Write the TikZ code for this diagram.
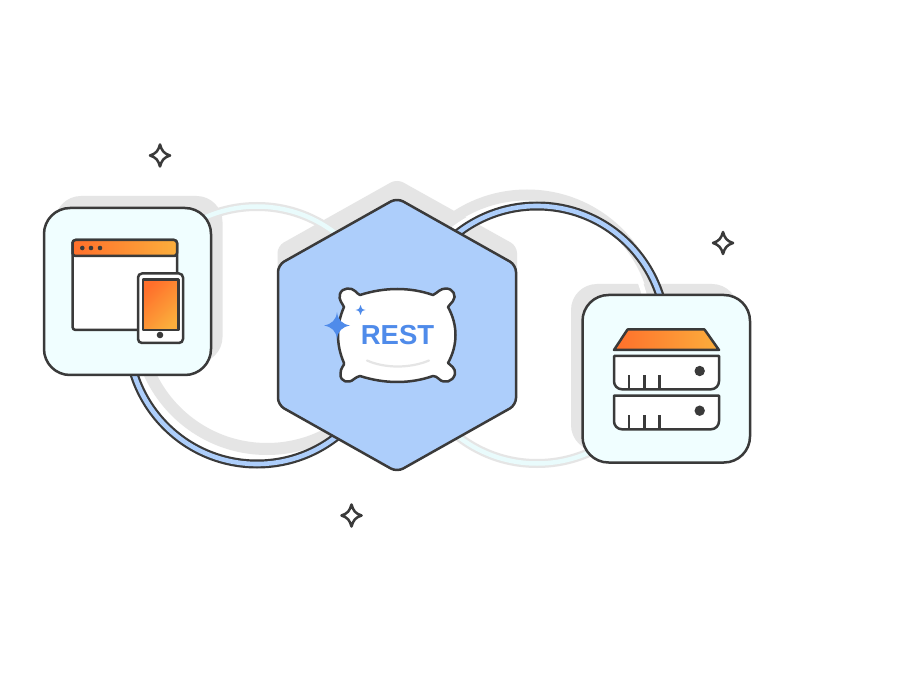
\documentclass[tikz,border=0pt]{standalone}
\usepackage{fontspec}
\setmainfont{Liberation Sans}
\definecolor{ink}{HTML}{3A3A3A}
\definecolor{shadowgray}{HTML}{E5E5E5}
\definecolor{hexblue}{HTML}{ADCEFB}
\definecolor{tileblue}{HTML}{F0FEFF}
\definecolor{restblue}{HTML}{4F8BEA}
\definecolor{palecore}{HTML}{E9FBFC}
\definecolor{ora}{HTML}{FF6F2B}
\definecolor{yel}{HTML}{FBAE3C}
\tikzset{
  outline/.style={draw=ink,line width=2.5pt,line join=round},
  tile/.style={outline,fill=tileblue,rounded corners=26pt},
  tileshadow/.style={fill=shadowgray,rounded corners=26pt},
  whitefill/.style={outline,fill=white},
  sparkle/.pic={\draw[outline,fill=white] (0,-11)
     .. controls (1.8,-4.5) and (4,-2) .. (10,0)
     .. controls (4,2) and (1.8,4.5) .. (0,11)
     .. controls (-1.8,4.5) and (-4,2) .. (-10,0)
     .. controls (-4,-2) and (-1.8,-4.5) .. cycle;},
  x=1pt,y=-1pt
}
\newcommand{\ringarc}[6]{%
  \draw[draw=#5,line width=#6] (#1) ++(#2:#4) arc[start angle=#2,end angle=#3,radius=#4];}
\begin{document}
\begin{tikzpicture}
\useasboundingbox (0,0) rectangle (903,676);
\fill[white] (0,0) rectangle (903,676);
% shadows
\fill[tileshadow] (55,196) rectangle (222.5,363);
\fill[tileshadow] (571,284) rectangle (738,451);
\fill[shadowgray,rounded corners=7pt] (397,179) -- (517,246) -- (517,387) -- (397,452) -- (277.5,387) -- (277.5,246) -- cycle;
% ring shadows
\ringarc{527,325}{0}{180}{121pt}{white}{5pt}
\ringarc{267,320}{180}{360}{129pt}{shadowgray}{12pt}
\ringarc{527,325}{0}{180}{130pt}{shadowgray}{11pt}
% connectors
\ringarc{257,335}{0}{180}{128.5pt}{shadowgray}{9pt}
\ringarc{257,335}{0}{180}{128.5pt}{palecore}{4.5pt}
\ringarc{537,335}{180}{360}{128.5pt}{shadowgray}{9pt}
\ringarc{537,335}{180}{360}{128.5pt}{palecore}{4.5pt}
\ringarc{257,335}{180}{360}{129pt}{ink}{9pt}
\ringarc{257,335}{180}{360}{129pt}{hexblue}{4.6pt}
\ringarc{537,335}{0}{180}{129pt}{ink}{9pt}
\ringarc{537,335}{0}{180}{129pt}{hexblue}{4.6pt}
% hexagon
\draw[outline,fill=hexblue,rounded corners=7pt] (397,198) -- (516,265) -- (516,405) -- (397,472) -- (278,405) -- (278,265) -- cycle;
% client tile
\draw[tile] (44,208) rectangle (211,375);
\draw[whitefill,rounded corners=3pt] (72.5,240) rectangle (177,330);
\draw[outline,left color=ora,right color=yel,rounded corners=3pt] (72.5,256) -- (72.5,240) -- (177,240) -- (177,256) -- cycle;
\draw[outline] (72.5,256) -- (177,256);
\fill[ink] (82.3,248) circle[radius=2.3pt] (91,248) circle[radius=2.3pt] (100,248) circle[radius=2.3pt];
\draw[whitefill,rounded corners=4pt] (138,273.5) rectangle (183,343);
\draw[outline,shading=axis,left color=ora,right color=yel,shading angle=45] (143,279.5) rectangle (178.5,330);
\fill[ink] (160,335) circle[radius=3.3pt];
% server tile
\draw[tile] (582.5,295) rectangle (750,462.5);
\draw[outline,left color=ora,right color=yel] (614,350) -- (627.5,329.5) -- (704.5,329.5) -- (719,350) -- cycle;
\foreach \tp/\bt in {356/389.3,395.7/429.3}{
  \draw[whitefill] (614,\tp) -- (719,\tp) -- (719,\bt-8) arc[start angle=0,end angle=-90,radius=8pt] -- (622,\bt) arc[start angle=-90,end angle=-180,radius=8pt] -- cycle;
  \fill[ink] (699.7,\tp+15) circle[radius=5.2pt];
  \foreach \tx in {629,644.3,659.7}{\draw[outline] (\tx,\bt-14) -- (\tx,\bt);}
}
% pillow
\draw[whitefill] (360,295)
  .. controls (385,287) and (410,287) .. (433,295)
  .. controls (438,292.5) and (440,288.5) .. (446,288.5)
  .. controls (453,288.5) and (457,296) .. (453,301)
  .. controls (451,304) and (449,305) .. (448,307)
  .. controls (458,325) and (458,345) .. (448,363)
  .. controls (450,365) and (456,368) .. (455,374)
  .. controls (453,382) and (444,384) .. (439,379)
  .. controls (437,377) and (435,376) .. (433,376)
  .. controls (410,384) and (385,384) .. (360,376)
  .. controls (358,376) and (356,378) .. (354,379)
  .. controls (349,384) and (340,382) .. (340.5,374)
  .. controls (340,368) and (345,365) .. (344,363)
  .. controls (336,345) and (336,325) .. (344,307)
  .. controls (343,304) and (338,300) .. (340,294)
  .. controls (342,287) and (352,287.5) .. (355,291)
  .. controls (357,293) and (358,294) .. (360,295) -- cycle;
\draw[draw=shadowgray,line width=2.2pt,line cap=round] (367,360.5) .. controls (385,368.5) and (410,368.5) .. (429,360.5);
\fill[restblue] (337,312) .. controls (338,320) and (342,324) .. (350,325.5)
  .. controls (342,327) and (338,331) .. (337,339)
  .. controls (336,331) and (332,327) .. (324,325.5)
  .. controls (332,324) and (336,320) .. (337,312) -- cycle;
\fill[restblue] (360.5,305) .. controls (361,308) and (362,309.5) .. (365.5,310)
  .. controls (362,310.5) and (361,312) .. (360.5,315)
  .. controls (360,312) and (359,310.5) .. (355.5,310)
  .. controls (359,309.5) and (360,308) .. (360.5,305) -- cycle;
\node[text=restblue,font=\fontsize{27.5}{27.5}\selectfont\bfseries,inner sep=0pt] (rest) at (397.5,335.5) {REST};
% sparkles
\pic at (160,155.5) {sparkle};
\pic at (723,243) {sparkle};
\pic at (351.5,515.5) {sparkle};
\end{tikzpicture}
\end{document}
